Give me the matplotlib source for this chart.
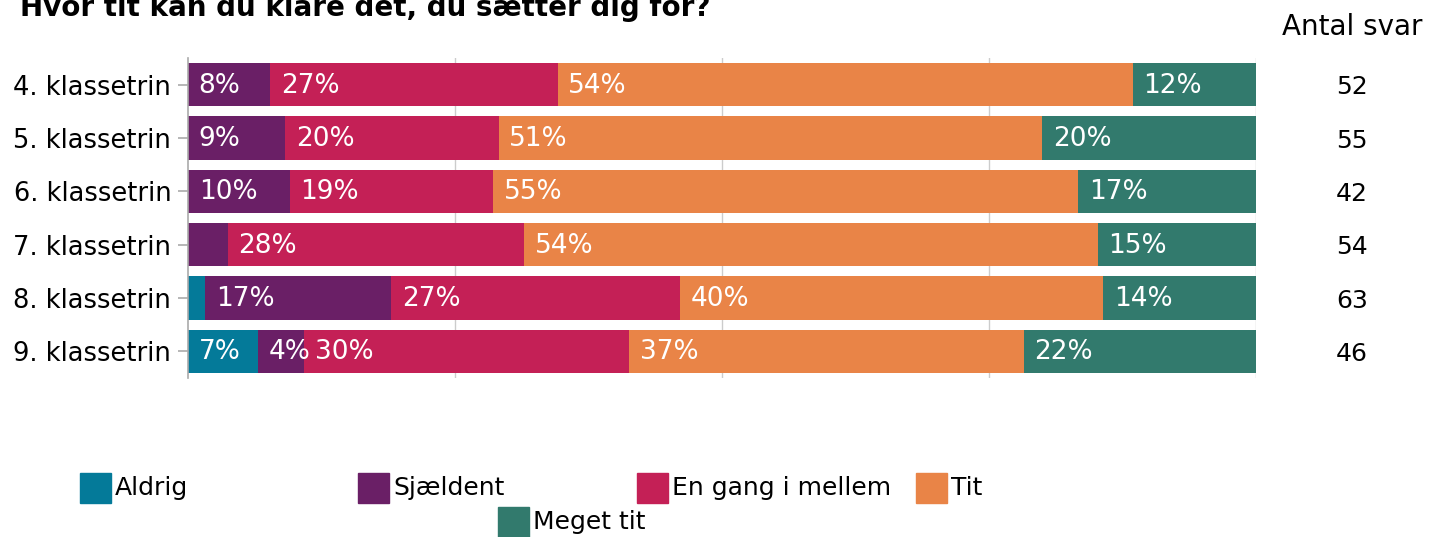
import matplotlib.pyplot as plt
from matplotlib.patches import Rectangle

plt.rcParams['font.family'] = ['DejaVu Sans']

title = "Hvor tit kan du klare det, du sætter dig for?"
grades = ["4. klassetrin", "5. klassetrin", "6. klassetrin",
          "7. klassetrin", "8. klassetrin", "9. klassetrin"]
answers = [52, 55, 42, 54, 63, 46]

# percent of answers per grade
aldrig = [0.0, 0.0, 0.0, 0.0, 1.59, 6.52]
sjaeldent = [7.69, 9.09, 9.52, 3.70, 17.46, 4.35]
en_gang = [26.92, 20.00, 19.05, 27.78, 26.98, 30.43]
tit = [53.85, 50.91, 54.76, 53.70, 39.68, 36.96]
meget_tit = [11.54, 20.00, 16.67, 14.81, 14.29, 21.74]

series = [
    ("Aldrig", aldrig, "#047a99"),
    ("Sjældent", sjaeldent, "#6a1f66"),
    ("En gang i mellem", en_gang, "#c42056"),
    ("Tit", tit, "#e98447"),
    ("Meget tit", meget_tit, "#327a6d"),
]

W, H = 1429, 537
fig = plt.figure(figsize=(W / 100, H / 100), dpi=100)
ax = fig.add_axes([188 / W, 1 - 378 / H, (1256 - 188) / W, (378 - 58) / H])

ypos = list(range(len(grades)))
left = [0.0] * len(grades)
for name, vals, col in series:
    ax.barh(ypos, vals, left=left, height=0.81, color=col, zorder=2)
    for i, v in enumerate(vals):
        if v >= 4:
            ax.text(left[i] + 1.0, ypos[i] + 0.02, f"{v:.0f}%", color="white",
                    fontsize=19, va="center", ha="left", zorder=3)
    left = [l + v for l, v in zip(left, vals)]

ax.set_xlim(0, 100)
ax.set_ylim(len(grades) - 0.5, -0.5)
ax.set_yticks(ypos)
ax.set_yticklabels(grades, fontsize=18.5)
ax.set_xticks([])
ax.tick_params(axis="y", length=7, width=1.2, color="#aaaaaa", pad=5)
for x in [25, 50, 75, 100]:
    ax.axvline(x, color="#cccccc", lw=1, zorder=1)
for s in ["top", "right", "bottom"]:
    ax.spines[s].set_visible(False)
ax.spines["left"].set_color("#aaaaaa")
ax.spines["left"].set_linewidth(1.2)

# answer counts on the right
fig.text(1352 / W, 1 - 27 / H, "Antal svar", fontsize=20, ha="center", va="center")
count_x = (1352 - 188) / (1256 - 188)
for i, n in enumerate(answers):
    ax.text(count_x, ypos[i] + 0.05, str(n), transform=ax.get_yaxis_transform(),
            fontsize=18, ha="center", va="center")

fig.text(20 / W, 1 - 8 / H, title, fontsize=20, fontweight="bold", ha="left", va="center")

# legend, drawn by hand in two rows
legend_pos = [(80, 473), (358, 473), (637, 473), (916, 473), (498, 507)]
for (name, vals, col), (lx, ly) in zip(series, legend_pos):
    fig.patches.append(Rectangle((lx / W, 1 - (ly + 30) / H), 31 / W, 30 / H,
                                 color=col, transform=fig.transFigure, figure=fig))
    fig.text((lx + 35) / W, 1 - (ly + 15) / H, name, fontsize=18, ha="left", va="center")

fig.savefig("out.png", dpi=100)
